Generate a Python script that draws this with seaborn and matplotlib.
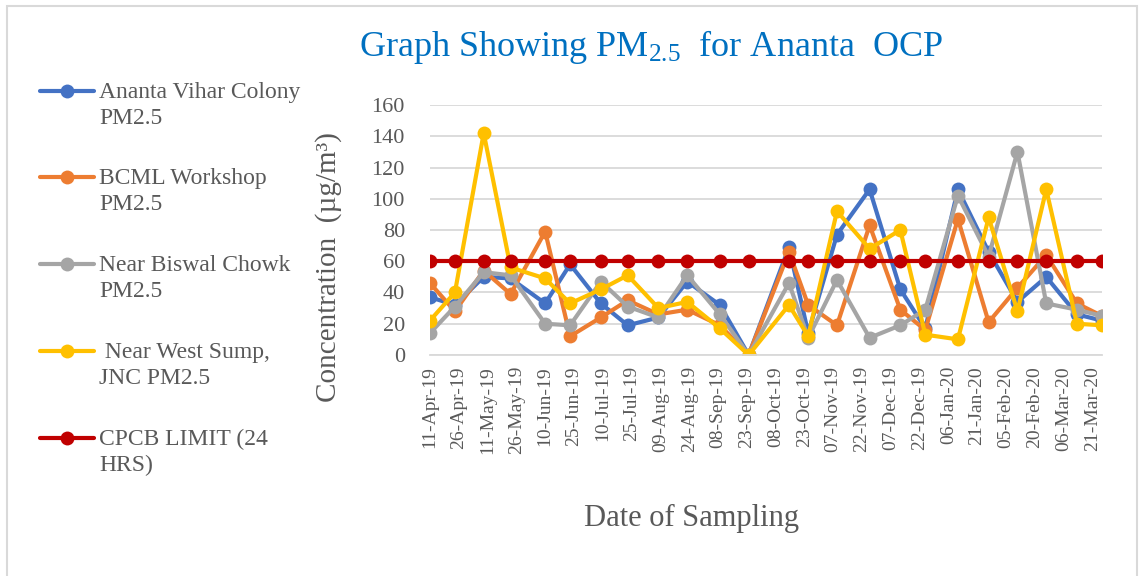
import pandas as pd
import numpy as np
import matplotlib
matplotlib.use("Agg")
import matplotlib.pyplot as plt
from matplotlib.lines import Line2D
from matplotlib.patches import Rectangle
import seaborn as sns

# ------------------ DATA ------------------
SAMPLING_DATES = [
    "11-Apr-19", "24-Apr-19", "09-May-19", "23-May-19", "10-Jun-19", "23-Jun-19",
    "09-Jul-19", "23-Jul-19", "08-Aug-19", "23-Aug-19", "09-Sep-19", "24-Sep-19",
    "15-Oct-19", "25-Oct-19", "09-Nov-19", "26-Nov-19", "12-Dec-19", "25-Dec-19",
    "11-Jan-20", "27-Jan-20", "11-Feb-20", "26-Feb-20", "13-Mar-20", "26-Mar-20",
]
ananta_vihar = [37, 32, 50, 49, 33, 58, 33, 19, 24, 47, 32, 0,
                69, 14, 77, 106, 42, 17, 106, 66, 34, 50, 26, 22]
bcml_workshop = [46, 28, 54, 39, 79, 12, 24, 35, 26, 29, 19, 0,
                 66, 32, 19, 83, 29, 16, 87, 21, 43, 64, 33, 25]
biswal_chowk = [14, 31, 53, 51, 20, 19, 47, 31, 24, 51, 26, 0,
                46, 11, 48, 11, 19, 29, 102, 63, 130, 33, 29, 25]
west_sump = [22, 40, 142, 56, 49, 33, 42, 51, 30, 34, 17, 0,
             32, 12, 92, 68, 80, 13, 10, 88, 28, 106, 20, 19]
cpcb_limit = [60, 60, 60, 60, 60, 60, 60, 60, 60, 60, 60, 60,
              60, 60, 60, 60, 60, 60, 60, 60, 60, 60, 60, 60]

SERIES_NAMES = [
    "Ananta Vihar Colony\nPM2.5",
    "BCML Workshop\nPM2.5",
    "Near Biswal Chowk\nPM2.5",
    " Near West Sump,\nJNC PM2.5",
    "CPCB LIMIT (24\nHRS)",
]
COLORS = ["#4472C4", "#ED7D31", "#A5A5A5", "#FFC000", "#C00000"]

TICK_LABELS = [
    "11-Apr-19", "26-Apr-19", "11-May-19", "26-May-19", "10-Jun-19", "25-Jun-19",
    "10-Jul-19", "25-Jul-19", "09-Aug-19", "24-Aug-19", "08-Sep-19", "23-Sep-19",
    "08-Oct-19", "23-Oct-19", "07-Nov-19", "22-Nov-19", "07-Dec-19", "22-Dec-19",
    "06-Jan-20", "21-Jan-20", "05-Feb-20", "20-Feb-20", "06-Mar-20", "21-Mar-20",
]

TEXT_GREY = "#595959"
GRID_GREY = "#D9D9D9"

# ------------------ FRAME ------------------
sns.set_style("white")
plt.rcParams["font.family"] = ["Liberation Serif", "DejaVu Serif"]
plt.rcParams["mathtext.default"] = "regular"

dates = pd.to_datetime(SAMPLING_DATES, format="%d-%b-%y")
values = [ananta_vihar, bcml_workshop, biswal_chowk, west_sump, cpcb_limit]
df = pd.concat(
    [pd.DataFrame({"date": dates, "value": v, "series": name})
     for name, v in zip(SERIES_NAMES, values)],
    ignore_index=True,
)

fig = plt.figure(figsize=(11.42, 5.76), dpi=100)
ax = fig.add_axes([0.3765, 0.3837, 0.5884, 0.434])

sns.lineplot(data=df, x="date", y="value", hue="series", hue_order=SERIES_NAMES,
             palette=COLORS, marker="o", markersize=10, markeredgewidth=0,
             linewidth=3, errorbar=None, legend=False, ax=ax)

# ------------------ AXES ------------------
ax.set_xlim(dates[0], dates[-1])
ax.set_ylim(0, 160)
ax.set_yticks(np.arange(0, 161, 20))
ticks = pd.to_datetime(TICK_LABELS, format="%d-%b-%y")
ax.set_xticks(ticks)
ax.set_xticklabels(TICK_LABELS, rotation=90, fontsize=14, color=TEXT_GREY)
ax.tick_params(axis="y", length=0, pad=18, labelsize=16, labelcolor=TEXT_GREY)
ax.tick_params(axis="x", length=4, width=1, color=GRID_GREY, direction="out", pad=4)
ax.yaxis.grid(True, color=GRID_GREY, linewidth=1.3)
ax.set_axisbelow(True)
for side in ["left", "right", "top"]:
    ax.spines[side].set_visible(False)
ax.spines["bottom"].set_color(GRID_GREY)
ax.spines["bottom"].set_linewidth(1.3)

ax.set_xlabel("Date of Sampling", fontsize=22, color=TEXT_GREY)
ax.xaxis.set_label_coords((692 - 430) / 672, -0.595)
ax.set_ylabel("Concentration  (µg/m³)", fontsize=21, color=TEXT_GREY)
ax.yaxis.set_label_coords(-0.131, 0.35)

fig.text(0.570, 0.918, "Graph Showing PM$_{2.5}$  for Ananta  OCP",
         fontsize=26, color="#0070C0", ha="center", va="center")

# ------------------ LEGEND ------------------
leg_y = [91, 177, 264, 351, 438]
for name, color, y in zip(SERIES_NAMES, COLORS, leg_y):
    fy = 1 - y / 576
    fig.add_artist(Line2D([40 / 1142, 94 / 1142], [fy, fy], color=color,
                          linewidth=3, transform=fig.transFigure))
    fig.add_artist(Line2D([67 / 1142], [fy], color=color, marker="o",
                          markersize=10, markeredgewidth=0, transform=fig.transFigure))
    fig.text(99 / 1142, fy + 9 / 576, name, fontsize=17, color=TEXT_GREY,
             ha="left", va="top", linespacing=1.3)

fig.add_artist(Rectangle((7 / 1142, -0.05), 1130 / 1142, 1.05 - 6 / 576,
                         fill=False, edgecolor=GRID_GREY, linewidth=1.5,
                         transform=fig.transFigure))

fig.savefig("out.png", dpi=100)
